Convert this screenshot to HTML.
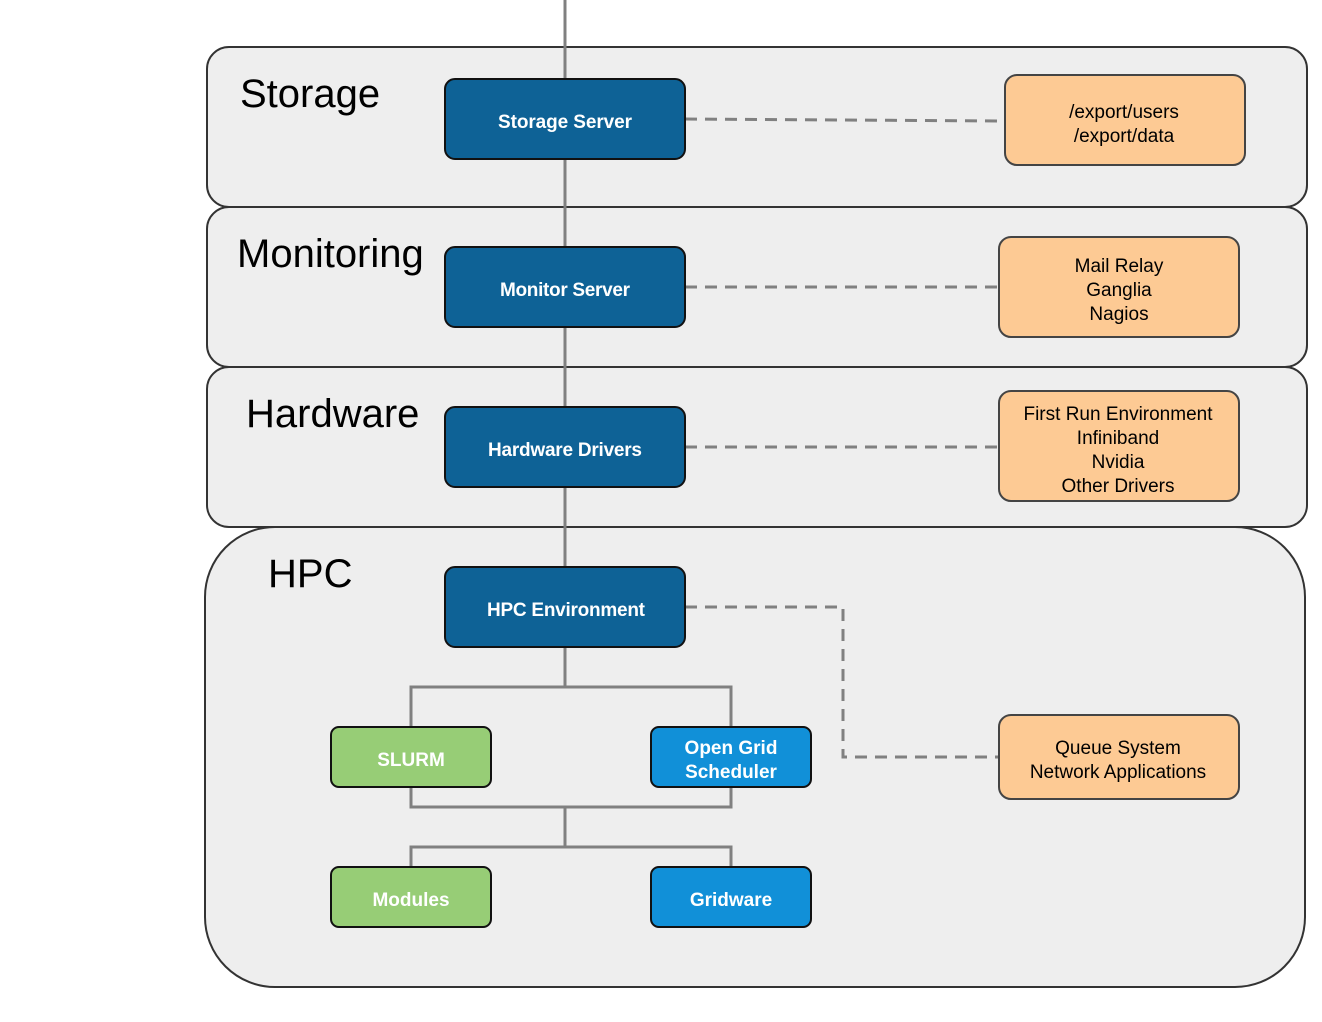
<!DOCTYPE html>
<html><head><meta charset="utf-8"><style>
html,body{margin:0;padding:0;background:#fff;width:1322px;height:1022px;overflow:hidden}
svg text{font-family:"Liberation Sans",sans-serif}
</style></head><body>
<svg width="1322" height="1022" viewBox="0 0 1322 1022" xmlns="http://www.w3.org/2000/svg">
<g fill="#eeeeee" stroke="#333" stroke-width="2">
<rect x="207" y="47" width="1100" height="160" rx="22"/>
<rect x="207" y="207" width="1100" height="160" rx="22"/>
<rect x="207" y="367" width="1100" height="160" rx="22"/>
<rect x="205" y="527" width="1100" height="460" rx="70"/>
</g>
<g font-size="40" fill="#000">
<text x="240" y="107">Storage</text>
<text x="237" y="267">Monitoring</text>
<text x="246" y="427">Hardware</text>
<text x="268" y="587">HPC</text>
</g>
<g stroke="#808080" stroke-width="3" fill="none">
<line x1="565" y1="0" x2="565" y2="687"/>
<polyline points="411,727 411,687 731,687 731,727"/>
<polyline points="411,787 411,807 731,807 731,787"/>
<line x1="565" y1="807" x2="565" y2="847"/>
<polyline points="411,867 411,847 731,847 731,867"/>
</g>
<g stroke="#808080" stroke-width="3" fill="none" stroke-dasharray="12,8">
<line x1="685" y1="119" x2="1005" y2="121"/>
<line x1="685" y1="287" x2="999" y2="287"/>
<line x1="685" y1="447" x2="999" y2="447"/>
<polyline points="685,607 843,607 843,757 999,757"/>
</g>
<g stroke="#111" stroke-width="2">
<rect x="445" y="79" width="240" height="80" rx="10" fill="#0e6296"/>
<rect x="445" y="247" width="240" height="80" rx="10" fill="#0e6296"/>
<rect x="445" y="407" width="240" height="80" rx="10" fill="#0e6296"/>
<rect x="445" y="567" width="240" height="80" rx="10" fill="#0e6296"/>
<rect x="331" y="727" width="160" height="60" rx="8" fill="#97cd76"/>
<rect x="651" y="727" width="160" height="60" rx="8" fill="#1190d8"/>
<rect x="331" y="867" width="160" height="60" rx="8" fill="#97cd76"/>
<rect x="651" y="867" width="160" height="60" rx="8" fill="#1190d8"/>
</g>
<g stroke="#444" stroke-width="2" fill="#fdca94">
<rect x="1005" y="75" width="240" height="90" rx="12"/>
<rect x="999" y="237" width="240" height="100" rx="12"/>
<rect x="999" y="391" width="240" height="110" rx="12"/>
<rect x="999" y="715" width="240" height="84" rx="12"/>
</g>
<g fill="#fff" font-size="19" font-weight="bold" text-anchor="middle">
<text x="565" y="128" textLength="134">Storage Server</text>
<text x="565" y="296" textLength="130">Monitor Server</text>
<text x="565" y="456" textLength="154">Hardware Drivers</text>
<text x="566" y="616" textLength="158">HPC Environment</text>
<text x="411" y="766">SLURM</text>
<text x="731" y="754">Open Grid</text>
<text x="731" y="778">Scheduler</text>
<text x="411" y="906">Modules</text>
<text x="731" y="906">Gridware</text>
</g>
<g fill="#000" font-size="19" text-anchor="middle">
<text x="1124" y="118">/export/users</text>
<text x="1124" y="142">/export/data</text>
<text x="1119" y="272">Mail Relay</text>
<text x="1119" y="296">Ganglia</text>
<text x="1119" y="320">Nagios</text>
<text x="1118" y="420">First Run Environment</text>
<text x="1118" y="444">Infiniband</text>
<text x="1118" y="468">Nvidia</text>
<text x="1118" y="492">Other Drivers</text>
<text x="1118" y="754">Queue System</text>
<text x="1118" y="778">Network Applications</text>
</g>
</svg>
</body></html>
